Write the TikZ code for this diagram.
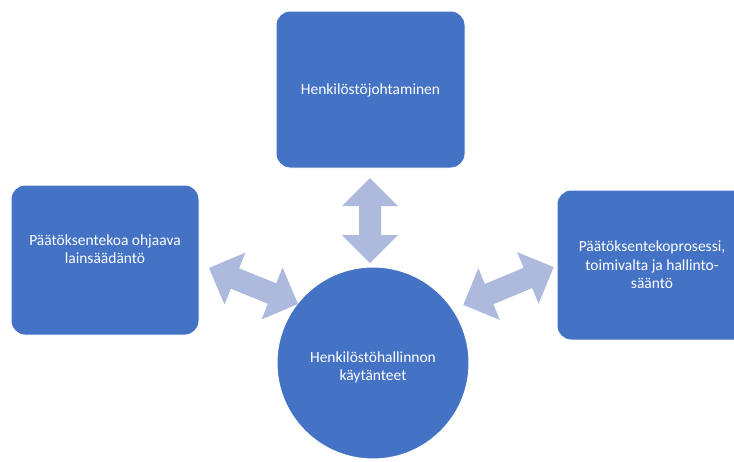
\documentclass[tikz,border=0pt]{standalone}
\usepackage{fontspec}
\setmainfont{Carlito}
\definecolor{boxblue}{RGB}{68,114,196}
\definecolor{arrblue}{RGB}{173,186,222}
\tikzset{
  box/.style={draw=white, line width=1pt, fill=boxblue, rounded corners=14pt},
  circ/.style={draw=white, line width=1pt, fill=boxblue, circle},
  lbl/.style={text=white, align=center, font=\fontsize{15.5}{18.5}\selectfont, inner sep=0pt},
  arr/.style={fill=arrblue, draw=none}
}
% double arrow: #1 name, #2 center, #3 angle, #4 half length
\newcommand{\mydblarrow}[4]{%
  \begin{scope}[shift={#2}, rotate=#3]
    \coordinate (#1) at (0,0);
    \fill[arr] (-#4,0) -- (-#4+28,28) -- (-#4+28,11) -- (#4-28,11) -- (#4-28,28) -- (#4,0)
      -- (#4-28,-28) -- (#4-28,-11) -- (-#4+28,-11) -- (-#4+28,-28) -- cycle;
  \end{scope}}
\begin{document}
\begin{tikzpicture}[x=1pt, y=-1pt]
\useasboundingbox (0,0) rectangle (734,461);
% boxes
\path[box] (276,11) rectangle (465,168);
\node[lbl] (top) at (370.5,90) {Henkilöstöjohtaminen};
\path[box] (11,185) rectangle (199,335);
\node[lbl] (left) at (105,249) {Päätöksentekoa ohjaava\\lainsäädäntö};
\path[box] (557,190) rectangle (750,340);
\node[lbl] (right) at (652,265) {Päätöksentekoprosessi,\\toimivalta ja hallinto-\\sääntö};
\fill[boxblue, draw=white, line width=1pt] (373,363) circle (96);
\node[lbl] (center) at (373,367.5) {Henkilöstöhallinnon\\käytänteet};
% arrows
\mydblarrow{av}{(370,220.5)}{90}{42.5}
\mydblarrow{al}{(253.5,286)}{-22}{48}
\mydblarrow{ar}{(508.5,286)}{22.7}{49}
\end{tikzpicture}
\end{document}
